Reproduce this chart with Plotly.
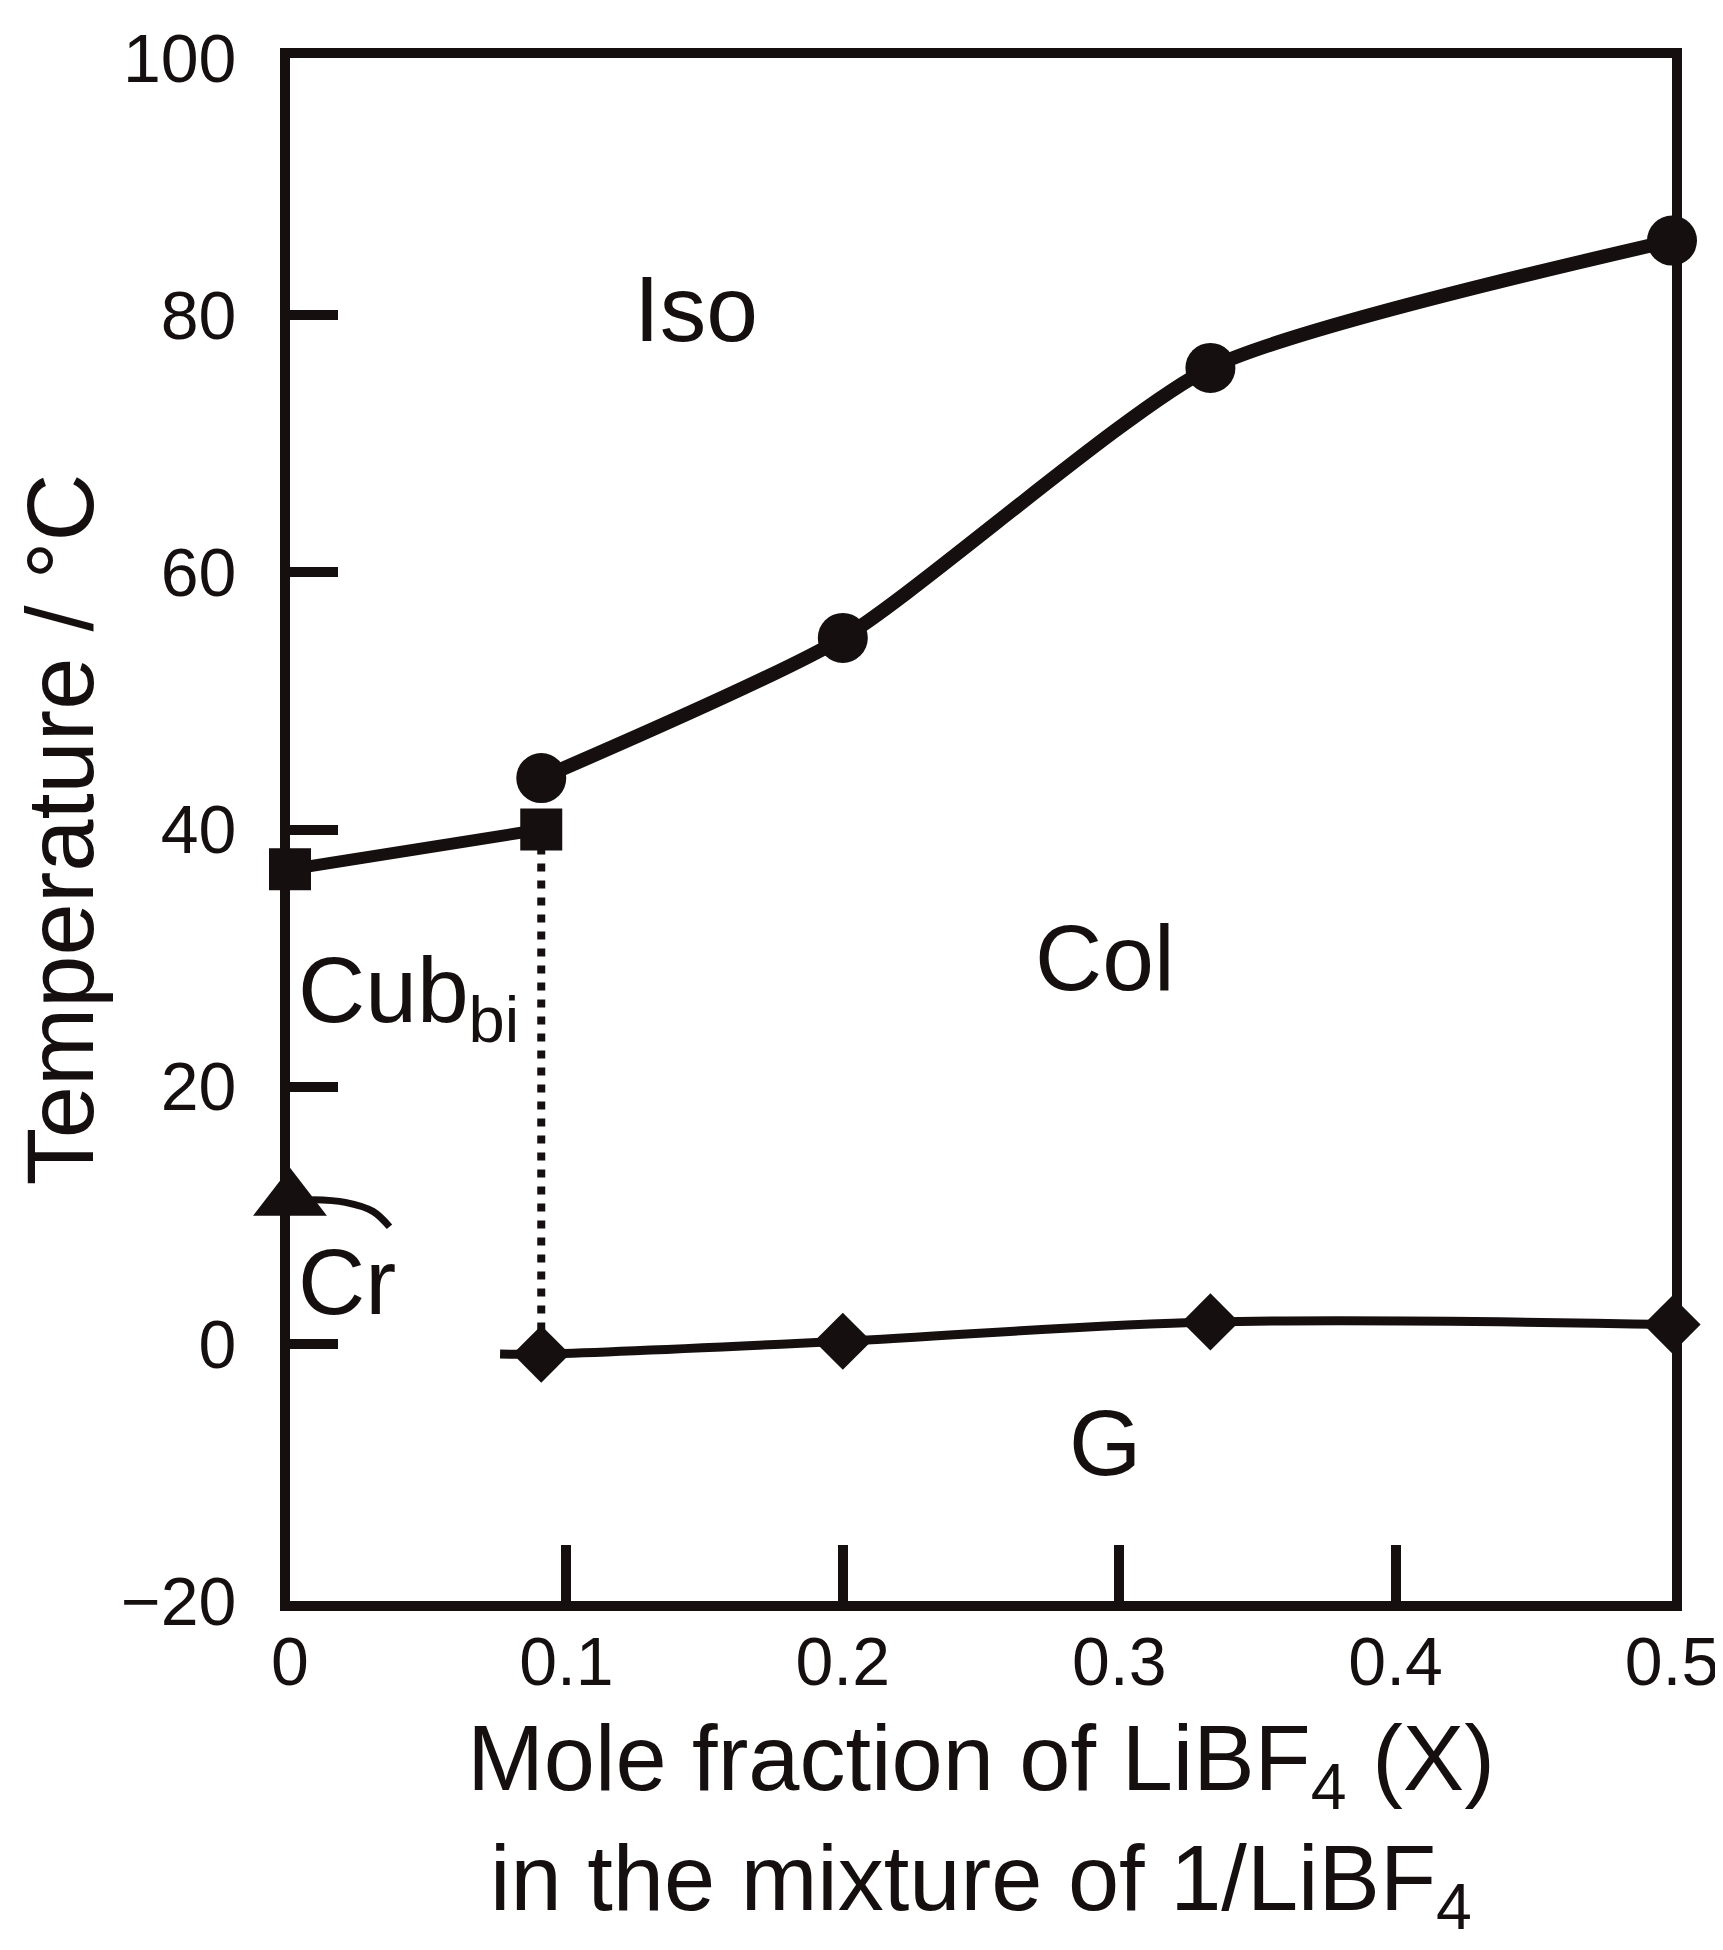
import plotly.graph_objects as go

# phase boundary data
iso_x = [0.0909, 0.2, 0.333, 0.5]
iso_t = [44.0, 54.9, 75.9, 85.8]

cub_x = [0.0, 0.0909]
cub_t = [36.9, 40.0]

glass_line_x = [0.076, 0.0909, 0.2, 0.333, 0.5]
glass_line_t = [-0.8, -0.8, 0.2, 1.7, 1.5]
glass_x = [0.0909, 0.2, 0.333, 0.5]
glass_t = [-0.8, 0.2, 1.7, 1.5]

cr_x = [0.0]
cr_t = [11.2]
cr_arc_x = [0.008, 0.02, 0.03, 0.036]
cr_arc_t = [11.2, 11.0, 10.3, 9.1]

dotted_x = [0.0909, 0.0909]
dotted_t = [40.0, -0.8]

x_ticks = [0, 0.1, 0.2, 0.3, 0.4, 0.5]
x_labels = ["0", "0.1", "0.2", "0.3", "0.4", "0.5"]
y_ticks = [-20, 0, 20, 40, 60, 80, 100]

ink = "#150f10"
font = "Arial, Liberation Sans, sans-serif"

fig = go.Figure()

# Iso / Col boundary
fig.add_trace(go.Scatter(x=iso_x, y=iso_t, mode="lines+markers",
                         line=dict(color=ink, width=14, shape="spline", smoothing=0.6),
                         marker=dict(symbol="circle", size=50, color=ink),
                         cliponaxis=False))
# Iso / Cub boundary
fig.add_trace(go.Scatter(x=cub_x, y=cub_t, mode="lines+markers",
                         line=dict(color=ink, width=12),
                         marker=dict(symbol="square", size=42, color=ink),
                         cliponaxis=False))
# Cub / Col dotted
fig.add_trace(go.Scatter(x=dotted_x, y=dotted_t, mode="lines",
                         line=dict(color=ink, width=8, dash="8px,9px")))
# glass transition
fig.add_trace(go.Scatter(x=glass_line_x, y=glass_line_t, mode="lines",
                         line=dict(color=ink, width=9, shape="spline", smoothing=1.0)))
fig.add_trace(go.Scatter(x=glass_x, y=glass_t, mode="markers",
                         marker=dict(symbol="diamond", size=44, color=ink),
                         cliponaxis=False))
# Cr
fig.add_trace(go.Scatter(x=cr_arc_x, y=cr_arc_t, mode="lines",
                         line=dict(color=ink, width=7, shape="spline", smoothing=1.0)))
fig.add_trace(go.Scatter(x=cr_x, y=cr_t, mode="markers",
                         marker=dict(symbol="triangle-up", size=64, color=ink),
                         cliponaxis=False))

labels = [
    (0.147, 80.5, "Iso", "center"),
    (0.295, 30.0, "Col", "center"),
    (0.295, -7.7, "G", "center"),
    (0.002, 27.0, "Cub<sub>bi</sub>", "left"),
    (0.002, 4.8, "Cr", "left"),
]
for lx, ly, txt, anc in labels:
    fig.add_annotation(x=lx, y=ly, text=txt, showarrow=False, xanchor=anc,
                       yanchor="middle", font=dict(size=93, color=ink, family=font))

axis_common = dict(showline=True, linecolor=ink, linewidth=10, mirror=True,
                   showgrid=False, zeroline=False, ticks="inside",
                   tickcolor=ink, tickwidth=10, layer="below traces",
                   ticklabeloverflow="allow",
                   tickfont=dict(size=68, color=ink, family=font))

fig.update_xaxes(range=[0, 0.5], tickvals=x_ticks, ticktext=x_labels, ticklen=56,
                 ticklabelstandoff=-8,
                 title=dict(text="Mole fraction of LiBF<sub>4</sub> (X)<br>in the mixture of 1/LiBF<sub>4</sub>",
                            font=dict(size=92, color=ink, family=font), standoff=32),
                 **axis_common)
fig.update_yaxes(range=[-20, 100], tickvals=y_ticks, ticklen=48,
                 ticklabelstandoff=30,
                 title=dict(text="Temperature / °C",
                            font=dict(size=94, color=ink, family=font), standoff=25),
                 **axis_common)

fig.update_layout(width=1723, height=1950, showlegend=False,
                  plot_bgcolor="white", paper_bgcolor="white",
                  margin=dict(l=282, r=53, t=30, b=357))

fig.write_html("out.html")
